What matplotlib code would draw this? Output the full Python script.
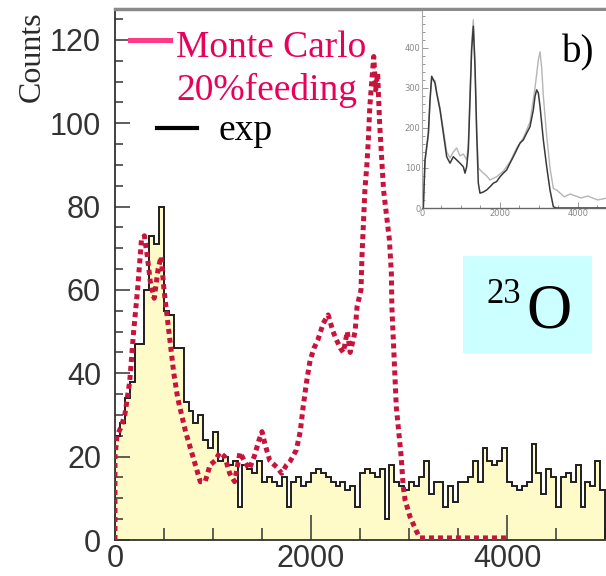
import numpy as np
import matplotlib.pyplot as plt
from matplotlib.patches import Rectangle
from matplotlib.lines import Line2D
from matplotlib.ticker import MultipleLocator

# Experimental spectrum, 50 keV bins from 0 to 5000
bin_width = 50
exp_counts = [25, 28, 34, 38, 47, 47, 60, 73, 71, 80,
              55, 54, 46, 46, 33, 31, 28, 30, 24, 22,
              26, 19, 20, 18, 19, 8, 18, 17, 16, 19,
              14, 15, 14, 13, 15, 8, 14, 15, 13, 14,
              16, 17, 16, 15, 14, 13, 14, 12, 13, 8,
              16, 17, 16, 15, 17, 5, 18, 14, 13, 12,
              14, 13, 15, 19, 11, 14, 14, 8, 13, 9,
              14, 14, 15, 19, 14, 22, 19, 18, 19, 22,
              14, 13, 12, 13, 14, 23, 16, 11, 17, 15,
              8, 15, 16, 14, 18, 8, 14, 13, 19, 12]

# Monte Carlo (20% feeding)
mc_x = [0, 0, 20, 60, 100, 150, 190, 230, 270, 300, 330, 360, 400, 440, 470,
        500, 530, 570, 600, 640, 680, 720, 770, 820, 870, 920, 970, 1020,
        1070, 1120, 1170, 1220, 1275, 1320, 1370, 1420, 1470, 1500, 1530,
        1580, 1650, 1700, 1750, 1790, 1850, 1890, 1920, 1955, 1990, 2030,
        2070, 2125, 2175, 2225, 2260, 2300, 2330, 2370, 2400, 2450, 2470,
        2510, 2520, 2535, 2550, 2570, 2585, 2600, 2620, 2640, 2660, 2680,
        2700, 2720, 2740, 2770, 2800, 2820, 2825, 2840, 2855, 2870, 2895,
        2920, 2940, 2960, 3010, 3070, 3110, 4000]
mc_y = [0, 20, 25, 27, 30, 38, 50, 60, 72, 73, 68, 62, 58, 65, 68,
        60, 54, 46, 40, 34, 30, 26, 22, 18, 14, 14, 18, 19,
        21, 20, 16, 14, 21, 19, 17, 20, 24, 26, 23,
        19, 17.5, 16, 18, 19, 21.6, 26, 32, 38, 43, 46,
        48, 52, 54, 50, 48, 46, 45, 50, 45, 50, 56,
        60, 68, 76, 84, 90, 96, 104, 110, 116, 108, 112,
        100, 92, 84, 78, 72, 64, 56, 48, 40, 32, 26,
        20, 13, 9.6, 5.6, 2.4, 0.5, 0.5]

# Inset b): experiment (dark) and simulation (light)
inset_dark_x = [0, 34, 77, 163, 205, 248, 333, 376, 462, 547, 633, 718, 803,
                889, 974, 1060, 1103, 1145, 1188, 1231, 1273, 1316, 1359,
                1402, 1444, 1487, 1573, 1658, 1744, 1829, 1914, 2000, 2085,
                2171, 2256, 2342, 2427, 2513, 2598, 2684, 2769, 2855, 2898,
                2940, 2983, 3026, 3111, 3197, 3282, 3368, 3453, 4700]
inset_dark_y = [0, 0, 120, 187, 270, 329, 312, 287, 245, 187, 128, 112, 128,
                120, 112, 103, 87, 103, 145, 270, 395, 454, 353,
                187, 62, 37, 40, 45, 53, 62, 66, 78, 87,
                95, 112, 128, 145, 162, 170, 187, 203, 245, 279,
                295, 287, 254, 170, 103, 45, 3, 0, 0]
inset_gray_x = [0, 34, 77, 163, 205, 248, 333, 376, 462, 547, 633, 718, 803,
                889, 974, 1060, 1145, 1188, 1231, 1273, 1316, 1359, 1402,
                1444, 1530, 1658, 1744, 1914, 2085, 2256, 2427, 2598, 2769,
                2898, 2983, 3026, 3069, 3111, 3197, 3282, 3368, 3450, 3650,
                3800, 4077, 4250, 4505, 4700]
inset_gray_y = [0, 0, 115, 180, 262, 322, 318, 290, 250, 195, 140, 125, 140,
                150, 130, 135, 120, 160, 290, 410, 470, 360, 200,
                100, 91, 80, 70, 78, 92, 115, 150, 175, 215,
                300, 370, 390, 350, 280, 180, 100, 49, 45, 28,
                35, 25, 30, 20, 24]

W, H = 606, 576
fig = plt.figure(figsize=(W / 100, H / 100), dpi=100)
ax = fig.add_axes([115 / W, 36 / H, (W - 115) / W, (540 - 9) / H])

edges = np.arange(len(exp_counts) + 1) * bin_width
ax.stairs(exp_counts, edges, fill=True, color='#fffbc8', zorder=1)
ax.stairs(exp_counts, edges, color='#1e1e1e', linewidth=1.4, zorder=2)
ax.plot(mc_x, mc_y, color='#c8143c', linewidth=3.6, linestyle=(0, (1, 0.8)),
        dash_capstyle='butt', zorder=3)

ax.set_xlim(0, 5010)
ax.set_ylim(0, 127.4)
ax.xaxis.set_major_locator(MultipleLocator(2000))
ax.xaxis.set_minor_locator(MultipleLocator(500))
ax.yaxis.set_major_locator(MultipleLocator(20))
ax.yaxis.set_minor_locator(MultipleLocator(5))
ax.tick_params(axis='x', which='major', direction='in', length=18, width=1.1,
               color='#333333', labelsize=22, labelcolor='#333333', pad=3)
ax.tick_params(axis='x', which='minor', direction='in', length=9, width=1.1, color='#333333')
ax.tick_params(axis='y', which='major', direction='in', length=11, width=1.1,
               color='#333333', labelsize=22, labelcolor='#333333', pad=10)
ax.tick_params(axis='y', which='minor', direction='in', length=6, width=1.1, color='#333333')
for lab in ax.get_xticklabels() + ax.get_yticklabels():
    lab.set_family('Liberation Sans')
ax.spines['top'].set_color('#8a8a8a')
ax.spines['top'].set_linewidth(2.5)
ax.spines['left'].set_color('#333333')
ax.spines['left'].set_linewidth(1.3)
ax.spines['bottom'].set_color('#333333')
ax.spines['bottom'].set_linewidth(1.3)
ax.spines['right'].set_visible(False)

fig.text(32 / W, 1 - 57 / H, 'Counts', rotation=90, ha='center', va='center',
         family='Liberation Serif', fontsize=23, color='#2a2a2a')

# legend
fig.add_artist(Line2D([130 / W, 170 / W], [1 - 40 / H, 1 - 40 / H], color='#ff3a88', linewidth=3.6))
fig.add_artist(Line2D([157 / W, 197 / W], [1 - 128 / H, 1 - 128 / H], color='black', linewidth=3))
fig.text(176 / W, 1 - 57 / H, 'Monte Carlo', family='Liberation Serif', fontsize=27,
         color='#e8005a', va='baseline')
fig.text(176 / W, 1 - 100 / H, '20%feeding', family='Liberation Serif', fontsize=27,
         color='#e8005a', va='baseline')
fig.text(218 / W, 1 - 140 / H, 'exp', family='Liberation Serif', fontsize=27,
         color='black', va='baseline')

# 23O label box
fig.add_artist(Rectangle((463 / W, 1 - 353 / H), (592 - 463) / W, (353 - 256) / H,
                         transform=fig.transFigure, facecolor='#ccffff', edgecolor='none'))
fig.text(486 / W, 1 - 303 / H, '23', family='Liberation Serif', fontsize=25, va='baseline')
fig.text(526 / W, 1 - 328 / H, 'O', family='Liberation Serif', fontsize=45, va='baseline')

# inset
ins = fig.add_axes([422 / W, 1 - 208 / H, (W - 422) / W, (208 - 11) / H])
ins.plot(inset_gray_x, inset_gray_y, color='#b5b5b5', linewidth=1.0)
ins.plot(inset_dark_x, inset_dark_y, color='#3a3a3a', linewidth=1.1)
ins.set_xlim(0, 4718)
ins.set_ylim(0, 492)
ins.xaxis.set_major_locator(MultipleLocator(2000))
ins.xaxis.set_minor_locator(MultipleLocator(500))
ins.yaxis.set_major_locator(MultipleLocator(100))
ins.yaxis.set_minor_locator(MultipleLocator(20))
ins.tick_params(which='both', direction='in', color='#888888', width=0.6,
                labelsize=6, labelcolor='#888888', pad=1)
ins.tick_params(which='major', length=4)
ins.tick_params(which='minor', length=2)
ins.spines['top'].set_visible(False)
ins.spines['right'].set_visible(False)
ins.spines['left'].set_color('#aaaaaa')
ins.spines['left'].set_linewidth(0.8)
ins.spines['bottom'].set_color('#666666')
ins.spines['bottom'].set_linewidth(1.0)

fig.text(562 / W, 1 - 62 / H, 'b)', family='Liberation Serif', fontsize=28, va='baseline')

fig.savefig('out.png', dpi=100)
